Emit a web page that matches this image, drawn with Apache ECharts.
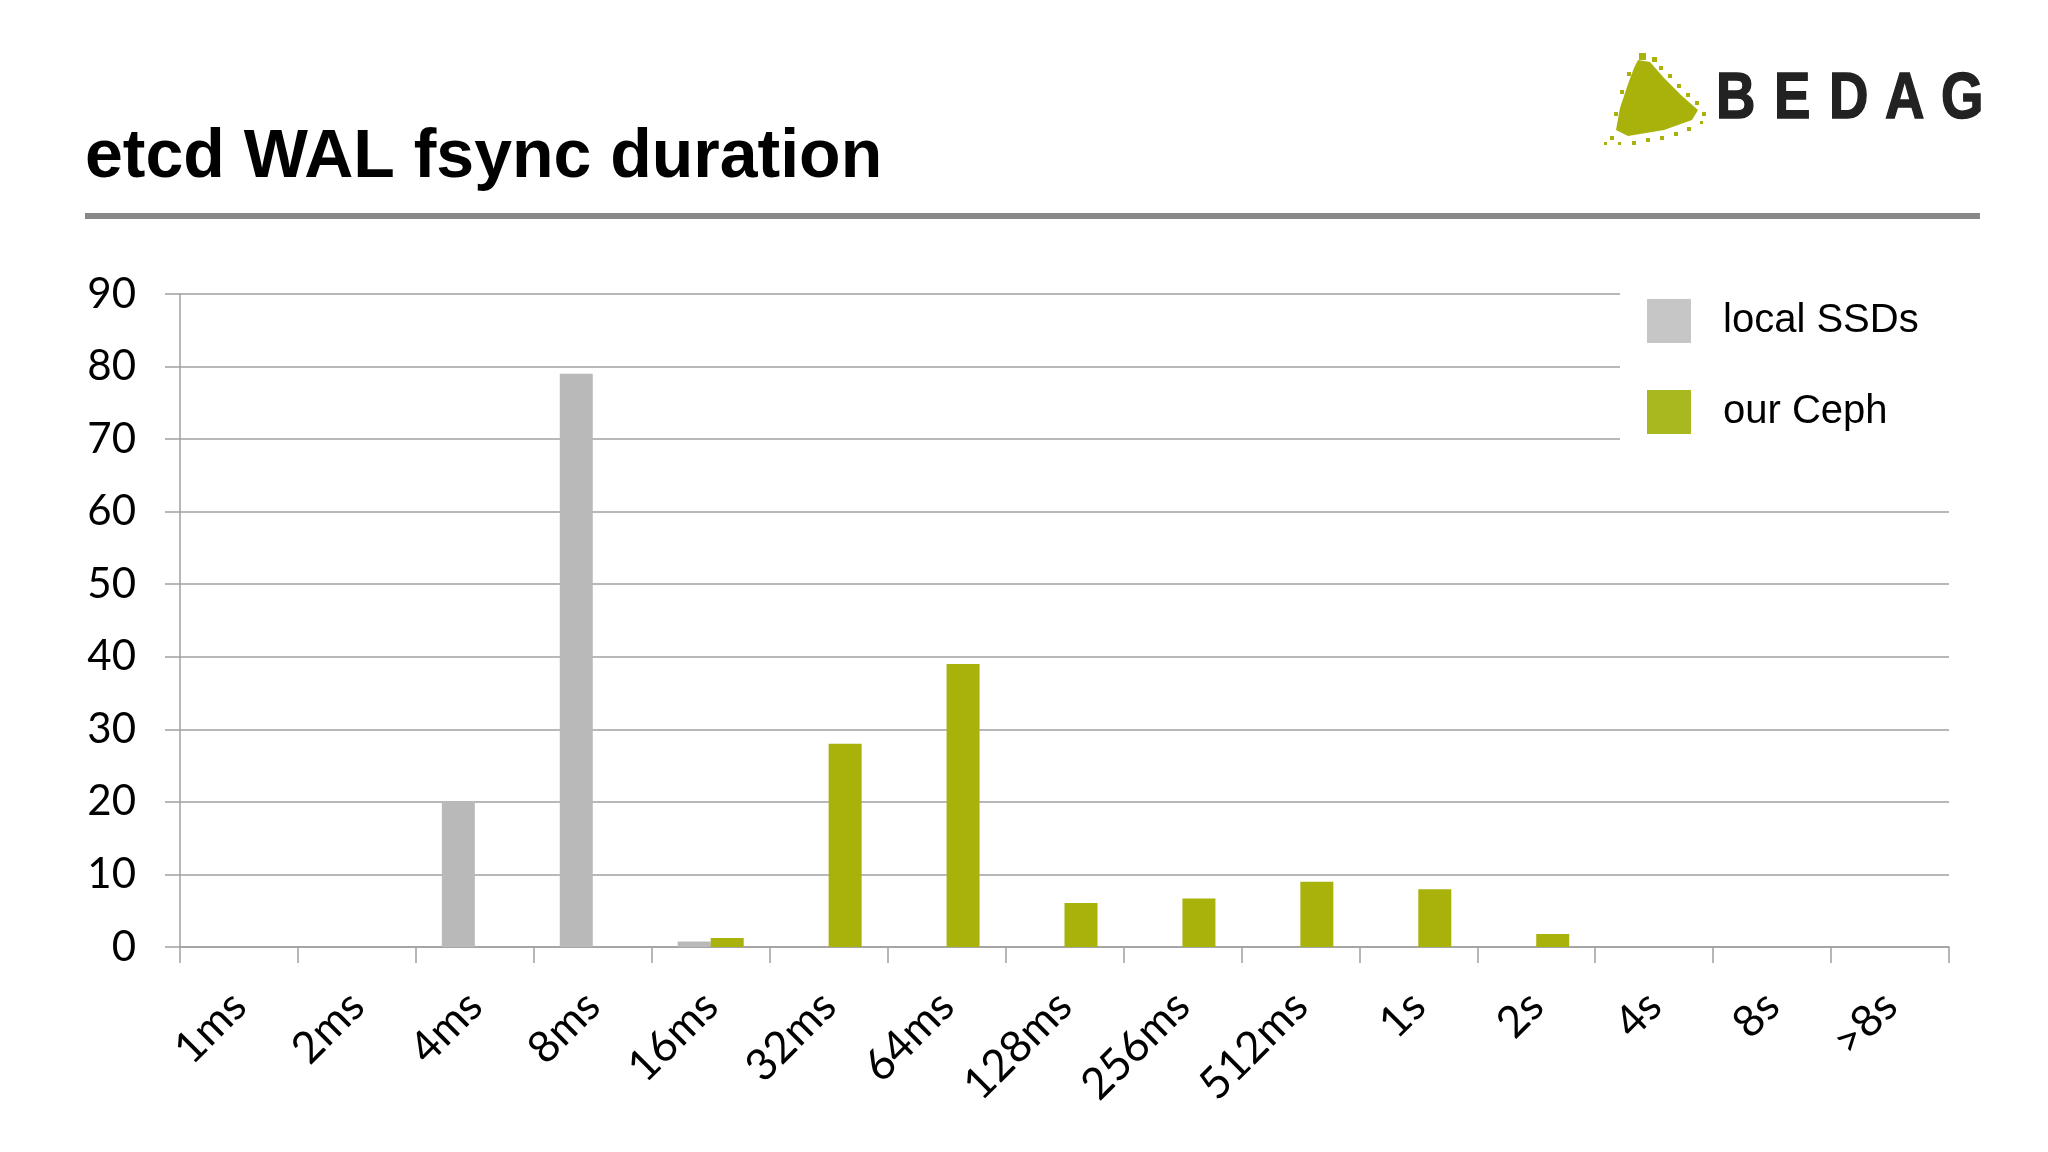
<!DOCTYPE html>
<html><head><meta charset="utf-8">
<script src="https://cdn.jsdelivr.net/npm/echarts@6/dist/echarts.min.js"></script>
<style>html,body{margin:0;padding:0;background:#fff}#c{width:2048px;height:1152px}</style>
</head><body><div id="c"></div>
<script>
// ---- data ----
const titleText = 'etcd WAL fsync duration';
const categories = ['1ms','2ms','4ms','8ms','16ms','32ms','64ms','128ms','256ms','512ms','1s','2s','4s','8s','>8s'];
const seriesNames = ['local SSDs','our Ceph'];
const localSSDs = [0,0,20,79,0.75,0,0,0,0,0,0,0,0,0,0];
const ourCeph   = [0,0,0,0,1.25,28,39,6.05,6.7,9,7.95,1.8,0,0,0];
const yMin = 0, yMax = 90, yInterval = 10;
const logoLetters = ['B','E','D','A','G'];

// ---- styles ----
const GRAY = '#b9b9b9', GREEN = '#a8b20b';
const chart = echarts.init(document.getElementById('c'), null, {renderer:'canvas'});

const letterX = [1716, 1774, 1829, 1885, 1941];
const dots = [[1639,53,7],[1652,57,5],[1659,66,4],[1668,74,4],[1677,84,4],[1686,93,4],[1695,101,4],[1702,112,4],[1700,121,3],
              [1610,136,4],[1604,142,3],[1618,142,3],[1632,141,4],[1646,138,4],[1660,136,4],[1674,132,4],[1687,127,4],
              [1614,112,4],[1620,90,4],[1627,72,4]];
const graphics = [
  {type:'rect', shape:{x:85,y:213,width:1895,height:6}, style:{fill:'#888888'}, silent:true},
  {type:'polygon', shape:{points:[[1638,60],[1650,62],[1664,78],[1682,96],[1698,110],[1692,120],[1664,130],[1628,136],[1616,130],[1620,108],[1628,84],[1634,68]]}, style:{fill:GREEN}, silent:true}
];
dots.forEach(d => graphics.push({type:'rect', shape:{x:d[0],y:d[1],width:d[2],height:d[2]}, style:{fill:GREEN}, silent:true}));
logoLetters.forEach((ch,i) => graphics.push({
  type:'text', x:letterX[i], y:100, scaleX:0.84,
  style:{text:ch, x:0, y:0, align:'left', verticalAlign:'middle', fill:'#222222',
         stroke:'#222222', lineWidth:1.5,
         font:'bold 65px "Liberation Sans", Arial, sans-serif'}, silent:true
}));

const option = {
  backgroundColor:'#ffffff',
  animation:false,
  title:{
    text:titleText, left:85, top:124, padding:0,
    textStyle:{fontFamily:'"Liberation Sans", Arial, sans-serif', fontWeight:'bold', fontSize:68, color:'#000'}
  },
  graphic: graphics,
  legend:{
    orient:'vertical', left:1620, top:285,
    padding:[14,40,15,27], backgroundColor:'#ffffff',
    itemWidth:44, itemHeight:44, itemGap:47, icon:'rect',
    data:[{name:seriesNames[0], itemStyle:{color:'#c6c6c6'}},{name:seriesNames[1], itemStyle:{color:'#aab820'}}],
    textStyle:{fontFamily:'"Liberation Sans", Arial, sans-serif', fontSize:40, color:'#000', padding:[14,0,0,27]}
  },
  grid:{left:180, right:99, top:294, bottom:205, containLabel:false},
  xAxis:{
    type:'category', data:categories, boundaryGap:true,
    axisLine:{lineStyle:{color:'#a0a0a0', width:1.5}},
    axisTick:{show:true, length:16, alignWithLabel:false, lineStyle:{color:'#a0a0a0', width:1.5}},
    axisLabel:{interval:0, rotate:45, margin:52, fontFamily:'Lato, "Open Sans", sans-serif', fontSize:44, color:'#000'}
  },
  yAxis:{
    type:'value', min:yMin, max:yMax, interval:yInterval,
    axisLine:{show:true, lineStyle:{color:'#a0a0a0', width:1.5}},
    axisTick:{show:true, length:15, lineStyle:{color:'#a0a0a0', width:1.5}},
    splitLine:{show:true, lineStyle:{color:'#a0a0a0', width:1.5}},
    axisLabel:{margin:44, fontFamily:'Lato, "Open Sans", sans-serif', fontSize:42, color:'#000'}
  },
  series:[
    {name:seriesNames[0], type:'bar', data:localSSDs, barWidth:33, barGap:'0%', itemStyle:{color:GRAY}},
    {name:seriesNames[1], type:'bar', data:ourCeph, barWidth:33, barGap:'0%', itemStyle:{color:GREEN}}
  ]
};
chart.setOption(option);
</script></body></html>
